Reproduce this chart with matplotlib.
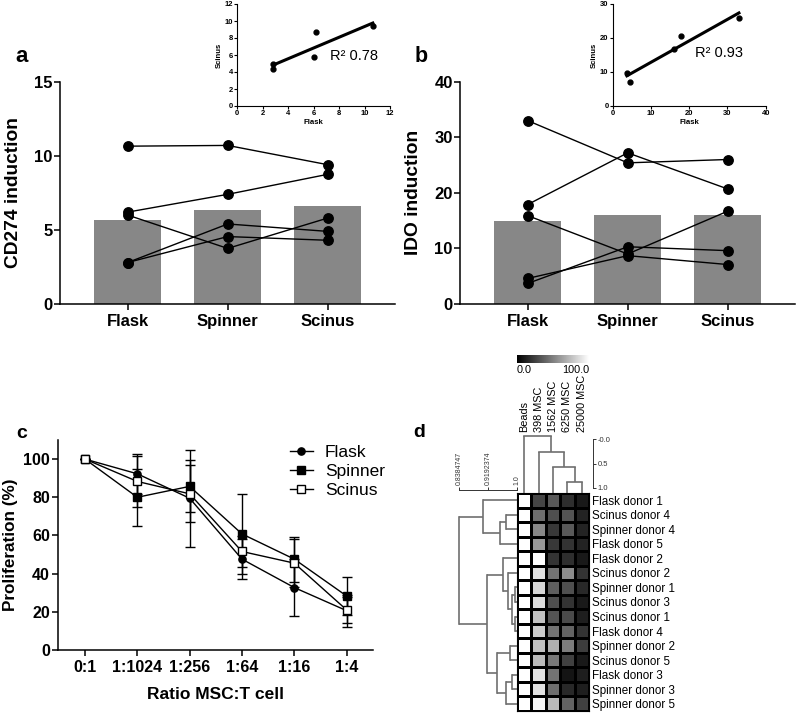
import numpy as np
import matplotlib
matplotlib.use('Agg')
import matplotlib.pyplot as plt

plt.rcParams['font.family'] = ['Liberation Sans', 'DejaVu Sans']

W, H = 797, 714

# ---------------- data ----------------
groups = ['Flask', 'Spinner', 'Scinus']

cd274_bar = [5.70, 6.35, 6.63]
cd274_donors = [
    [10.65, 10.70, 9.40],
    [6.20, 7.40, 8.75],
    [6.00, 3.75, 5.80],
    [2.80, 5.40, 4.90],
    [2.80, 4.55, 4.30],
]
cd274_r2 = '0.78'

ido_bar = [14.95, 16.05, 15.95]
ido_donors = [
    [33.0, 25.4, 26.0],
    [17.9, 27.2, 20.7],
    [15.9, 9.0, 16.7],
    [4.6, 8.7, 7.1],
    [3.7, 10.3, 9.6],
]
ido_r2 = '0.93'

ratios = ['0:1', '1:1024', '1:256', '1:64', '1:16', '1:4']
flask_mean = [100, 92.3, 79.5, 47.6, 32.7, 20.6]
flask_err = [0, 10.5, 25.3, 10.4, 15.0, 8.4]
spinner_mean = [100, 80.0, 85.7, 60.8, 47.6, 28.3]
spinner_err = [0, 14.9, 13.6, 21.0, 11.8, 10.2]
scinus_mean = [100, 88.3, 81.8, 51.6, 45.5, 21.0]
scinus_err = [0, 13.5, 15.0, 8.0, 12.5, 6.7]

hm_cols = ['Beads', '398 MSC', '1562 MSC', '6250 MSC', '25000 MSC']
hm_rows = ['Flask donor 1', 'Scinus donor 4', 'Spinner donor 4', 'Flask donor 5',
           'Flask donor 2', 'Scinus donor 2', 'Spinner donor 1', 'Scinus donor 3',
           'Scinus donor 1', 'Flask donor 4', 'Spinner donor 2', 'Scinus donor 5',
           'Flask donor 3', 'Spinner donor 3', 'Spinner donor 5']
hm_values = [
    [100, 27, 35, 18, 10],
    [100, 43, 31, 33, 14],
    [100, 53, 22, 35, 14],
    [100, 59, 22, 20, 14],
    [100, 100, 20, 18, 10],
    [100, 88, 45, 55, 20],
    [100, 84, 37, 31, 16],
    [100, 86, 31, 20, 10],
    [100, 76, 33, 29, 12],
    [100, 80, 45, 39, 20],
    [100, 75, 69, 49, 24],
    [100, 73, 47, 25, 10],
    [100, 88, 45, 8, 12],
    [100, 88, 43, 16, 12],
    [100, 96, 73, 39, 25],
]
# row dendrogram merges (child a, child b, similarity)
row_merges = [
    (1, 2, 0.969), (15, 3, 0.953), (0, 16, 0.904),
    (6, 7, 0.994), (8, 9, 0.995), (18, 19, 0.985), (5, 20, 0.974), (4, 21, 0.961),
    (10, 11, 0.981), (12, 13, 0.986), (24, 14, 0.969), (23, 25, 0.944),
    (22, 26, 0.916), (17, 27, 0.8384747),
]
row_scale_ticks = [0.8384747, 0.9192374, 1.0]
row_scale_labels = ['0.8384747', '0.9192374', '1.0']
col_merges = [(3, 4, 0.876), (2, 5, 0.566), (1, 6, 0.256), (0, 7, -0.07)]
col_scale_ticks = [0.0, 0.5, 1.0]
col_scale_labels = ['-0.0', '0.5', '1.0']

# ---------------- helpers ----------------
def box(x0, y0, x1, y1):
    return [x0 / W, 1 - y1 / H, (x1 - x0) / W, (y1 - y0) / H]

fig = plt.figure(figsize=(W / 100, H / 100), dpi=100)
BAR = '#878787'

def main_panel(rect, bars, donors, ylim, yticks, ylabel):
    ax = fig.add_axes(rect)
    x = np.arange(len(groups))
    ax.bar(x, bars, width=0.667, color=BAR, zorder=1)
    for d in donors:
        ax.plot(x, d, '-o', color='black', lw=1.0, ms=6.8, zorder=3, clip_on=False)
    ax.set_xlim(-0.677, 2.673)
    ax.set_ylim(*ylim)
    ax.set_yticks(yticks)
    ax.set_xticks(x)
    ax.set_xticklabels(groups)
    for s in ['top', 'right']:
        ax.spines[s].set_visible(False)
    for s in ['left', 'bottom']:
        ax.spines[s].set_linewidth(1.1)
    ax.tick_params(axis='both', length=4.3, width=1.1, labelsize=12)
    ax.tick_params(axis='y', pad=1)
    ax.tick_params(axis='x', pad=3)
    for t in ax.get_xticklabels() + ax.get_yticklabels():
        t.set_fontweight('bold')
    ax.set_ylabel(ylabel, fontsize=13.8, fontweight='bold')
    ax.yaxis.set_label_coords(-0.113, 0.5)
    return ax

def inset(rect, donors, lim, ticks, r2, txy):
    ax = fig.add_axes(rect)
    fx = np.array([d[0] for d in donors])
    sy = np.array([d[2] for d in donors])
    ax.plot(fx, sy, 'o', color='black', ms=3.5, zorder=3, clip_on=False)
    k, b = np.polyfit(fx, sy, 1)
    xs = np.array([fx.min(), fx.max()])
    ax.plot(xs, k * xs + b, color='black', lw=2.2, zorder=2)
    ax.set_xlim(0, lim[0]); ax.set_ylim(0, lim[1])
    ax.set_xticks(ticks[0]); ax.set_yticks(ticks[1])
    for s in ['top', 'right']:
        ax.spines[s].set_visible(False)
    for s in ['left', 'bottom']:
        ax.spines[s].set_linewidth(0.8)
    ax.tick_params(axis='both', length=2, width=0.8, labelsize=5.5, pad=1)
    for t in ax.get_xticklabels() + ax.get_yticklabels():
        t.set_fontweight('bold')
    ax.set_xlabel('Flask', fontsize=5.6, fontweight='bold', labelpad=1.5)
    ax.set_ylabel('Scinus', fontsize=5.6, fontweight='bold', labelpad=1.5)
    ax.text(txy[0], txy[1], 'R\u00b2 ' + r2, fontsize=10.5, va='center', ha='left')
    return ax

# ---------------- panel a / b ----------------
main_panel(box(60, 81.7, 395, 304), cd274_bar, cd274_donors, (0, 15), [0, 5, 10, 15], 'CD274 induction')
inset(box(237.3, 4, 390, 106), cd274_donors, (12, 12),
      (np.arange(0, 13, 2), np.arange(0, 13, 2)), cd274_r2, (7.28, 5.9))
main_panel(box(460, 81.7, 795, 304), ido_bar, ido_donors, (0, 40), [0, 10, 20, 30, 40], 'IDO induction')
inset(box(612.7, 4, 765.7, 106), ido_donors, (40, 30),
      (np.arange(0, 41, 10), np.arange(0, 31, 10)), ido_r2, (21.5, 15.5))

# ---------------- panel c ----------------
axc = fig.add_axes(box(58.3, 440, 373.3, 650))
xc = np.arange(len(ratios))
ekw = dict(color='black', lw=1.0, elinewidth=1.0, capsize=3.6, capthick=1.0, clip_on=False)
axc.errorbar(xc, flask_mean, yerr=flask_err, marker='o', ms=5.2, mfc='black', mec='black',
             label='Flask', zorder=3, **ekw)
axc.errorbar(xc, spinner_mean, yerr=spinner_err, marker='s', ms=5.6, mfc='black', mec='black',
             label='Spinner', zorder=4, **ekw)
axc.errorbar(xc, scinus_mean, yerr=scinus_err, marker='s', ms=6.0, mfc='white', mec='black',
             mew=1.0, label='Scinus', zorder=5, **ekw)
axc.set_xlim(-0.51, 5.51)
axc.set_ylim(0, 110)
axc.set_yticks(np.arange(0, 101, 20))
axc.set_xticks(xc)
axc.set_xticklabels(ratios)
for s in ['top', 'right']:
    axc.spines[s].set_visible(False)
for s in ['left', 'bottom']:
    axc.spines[s].set_linewidth(1.1)
axc.tick_params(axis='both', length=4.5, width=1.1, labelsize=11.5)
axc.tick_params(axis='y', pad=1.5)
axc.tick_params(axis='x', pad=3)
for t in axc.get_xticklabels() + axc.get_yticklabels():
    t.set_fontweight('bold')
axc.set_ylabel('Proliferation (%)', fontsize=12.3, fontweight='bold')
axc.yaxis.set_label_coords(-0.128, 0.5)
axc.set_xlabel('Ratio MSC:T cell', fontsize=12.5, fontweight='bold')
axc.xaxis.set_label_coords(0.5, -0.175)
handles, labels = axc.get_legend_handles_labels()
handles = [h[0] for h in handles]
axc.legend(handles, labels, loc='upper left', bbox_to_anchor=(0.7356, 0.975), frameon=False,
           fontsize=12.5, handlelength=1.3, handletextpad=0.7, labelspacing=0.2,
           borderpad=0, borderaxespad=0, numpoints=1)

# ---------------- panel d ----------------
nr, nc = len(hm_rows), len(hm_cols)
axh = fig.add_axes(box(517, 493, 589, 711))
axh.pcolormesh(np.arange(nc + 1), np.arange(nr + 1), np.array(hm_values, dtype=float),
               cmap='gray', vmin=0, vmax=100, edgecolors='black', linewidth=0.8)
axh.set_xlim(0, nc); axh.set_ylim(nr, 0)
axh.set_xticks([])
axh.yaxis.tick_right()
axh.set_yticks(np.arange(nr) + 0.5)
axh.set_yticklabels(hm_rows, fontsize=8.4)
axh.tick_params(axis='y', length=0, pad=2.5)
for s in axh.spines.values():
    s.set_linewidth(0.8)

DCOL = '#707070'

def dendro(ax, merges, n, leaf_h, horizontal):
    pos = {i: i + 0.5 for i in range(n)}
    hgt = {i: leaf_h for i in range(n)}
    for k, (a, b, h) in enumerate(merges):
        for c in (a, b):
            if horizontal:
                ax.plot([hgt[c], h], [pos[c], pos[c]], color=DCOL, lw=1.2, solid_capstyle='butt', clip_on=False)
            else:
                ax.plot([pos[c], pos[c]], [hgt[c], h], color=DCOL, lw=1.2, solid_capstyle='butt', clip_on=False)
        if horizontal:
            ax.plot([h, h], [pos[a], pos[b]], color=DCOL, lw=1.2, clip_on=False)
        else:
            ax.plot([pos[a], pos[b]], [h, h], color=DCOL, lw=1.2, clip_on=False)
        pos[n + k] = (pos[a] + pos[b]) / 2
        hgt[n + k] = h

# row dendrogram
axr = fig.add_axes(box(459.3, 493, 517, 711))
dendro(axr, row_merges, nr, 1.0, True)
axr.set_xlim(0.8384747, 1.0)
axr.set_ylim(nr, 0)
axr.set_yticks([])
for s in ['left', 'right', 'bottom']:
    axr.spines[s].set_visible(False)
axr.spines['top'].set_position(('axes', 1.014))
axr.spines['top'].set_linewidth(0.7)
axr.spines['top'].set_color('#333333')
axr.xaxis.tick_top()
axr.set_xticks(row_scale_ticks)
axr.set_xticklabels(row_scale_labels)
axr.tick_params(axis='x', labelsize=5, length=2.5, width=0.7, pad=1, labelrotation=90, colors='#333333')
axr.patch.set_visible(False)

# column dendrogram
axcd = fig.add_axes(box(517, 434, 589, 493))
dendro(axcd, col_merges, nc, 1.103, False)
axcd.set_xlim(0, nc)
axcd.set_ylim(1.103, -0.111)
for s in ['left', 'top', 'bottom']:
    axcd.spines[s].set_visible(False)
axcd.spines['right'].set_position(('axes', 1.056))
axcd.spines['right'].set_bounds(0, 1)
axcd.spines['right'].set_linewidth(0.7)
axcd.spines['right'].set_color('#333333')
axcd.yaxis.tick_right()
axcd.set_yticks(col_scale_ticks)
axcd.set_yticklabels(col_scale_labels)
axcd.tick_params(axis='y', labelsize=5.5, length=2.5, width=0.7, pad=1, colors='#333333')
axcd.xaxis.tick_top()
axcd.set_xticks(np.arange(nc) + 0.5)
axcd.set_xticklabels(hm_cols, rotation=90, fontsize=7.8)
axcd.tick_params(axis='x', length=0, pad=1.5)
axcd.patch.set_visible(False)

# colour bar
axcb = fig.add_axes(box(517, 355, 589, 363))
axcb.imshow(np.linspace(0, 100, 256)[None, :], cmap='gray', vmin=0, vmax=100,
            aspect='auto', extent=(0, 100, 0, 1))
axcb.set_xticks([]); axcb.set_yticks([])
for s in axcb.spines.values():
    s.set_visible(False)
axcb.text(0, -0.3, '0.0', transform=axcb.transAxes, ha='left', va='top', fontsize=7.8)
axcb.text(1, -0.3, '100.0', transform=axcb.transAxes, ha='right', va='top', fontsize=7.8)

# panel letters
for lab, x, y, fs in [('a', 15, 61.7, 16), ('b', 415, 61.7, 15.5), ('c', 16.7, 438.3, 14), ('d', 413.3, 436.7, 14)]:
    fig.text(x / W, 1 - y / H, lab, fontsize=fs, fontweight='bold', ha='left', va='baseline')

fig.savefig('out.png', dpi=100)
